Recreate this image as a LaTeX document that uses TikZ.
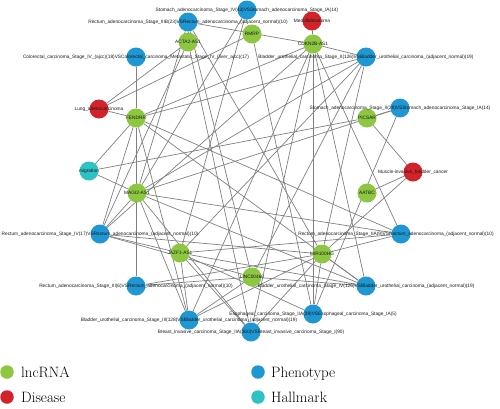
\documentclass[tikz,border=0pt]{standalone}
\usepackage{fontspec}
\newfontfamily\labfont{Liberation Sans}
\usetikzlibrary{backgrounds}
\definecolor{lncg}{HTML}{8DC641}
\definecolor{disr}{HTML}{D2232A}
\definecolor{pheb}{HTML}{1E97D3}
\definecolor{halt}{HTML}{2EC2C5}
\definecolor{edgegray}{HTML}{808080}
\begin{document}
\begin{tikzpicture}[x=1pt,y=-1pt,
  nd/.style={circle,minimum size=19pt,inner sep=0pt},
  lnc/.style={nd,fill=lncg}, dis/.style={nd,fill=disr},
  phe/.style={nd,fill=pheb}, hal/.style={nd,fill=halt},
  lbl/.style={font=\labfont\fontsize{4.8}{5.5}\selectfont,inner sep=0pt,text=black!90},
  edge/.style={draw=edgegray,line width=0.7pt},
  legdot/.style={circle,minimum size=13.5pt,inner sep=0pt},
  legtxt/.style={anchor=base west,inner sep=0pt,font=\fontsize{15}{17}\selectfont}]
\useasboundingbox (0,0) rectangle (500,408);
% nodes
\node[phe] (sIV) at (247,10) {};
\node[phe] (rIIIB) at (188,22) {};
\node[dis] (med) at (312,21) {};
\node[lnc] (acta) at (188,42) {};
\node[lnc] (rmrp) at (252,34) {};
\node[lnc] (cdkn) at (313,44) {};
\node[phe] (col) at (136,57) {};
\node[phe] (bII) at (366,57) {};
\node[dis] (lung) at (99,109) {};
\node[lnc] (fen) at (136,118) {};
\node[lnc] (pic) at (367,118) {};
\node[phe] (sII) at (400,108) {};
\node[hal] (mig) at (89,171) {};
\node[dis] (mus) at (413,172) {};
\node[lnc] (magi) at (137,193) {};
\node[lnc] (aatbc) at (367,193) {};
\node[phe] (rIV) at (100,234) {};
\node[phe] (rIIA) at (401,234) {};
\node[lnc] (jazf) at (180,253) {};
\node[lnc] (mir) at (322,254) {};
\node[lnc] (linc) at (252,277) {};
\node[phe] (rIII) at (136,286) {};
\node[phe] (bIV) at (366,286) {};
\node[phe] (eso) at (313,314) {};
\node[phe] (bIII) at (189,320) {};
\node[phe] (br) at (251,332) {};
% edges
\begin{pgfonlayer}{background}
\foreach \a/\b in {med/cdkn, rIIIB/cdkn, rIIIB/acta, rIIIB/linc, rIIIB/mir, rIIIB/magi,
  sIV/magi, sIV/jazf, lung/acta, lung/rmrp, lung/fen, col/fen, fen/rIII,
  fen/bII, fen/cdkn, fen/mig, fen/rIV, fen/rIIA, fen/bIV, fen/bIII,
  acta/rIV, acta/br, rmrp/eso, rIV/cdkn, cdkn/eso, cdkn/bIV, cdkn/bIII, cdkn/br,
  cdkn/bII, cdkn/rIIA, bII/linc, bII/mir, bII/jazf, bII/magi,
  pic/sII, pic/mus, pic/mig, magi/sII, sII/eso, mus/aatbc, mus/mir,
  mir/rIIA, mir/bIV, mir/eso, mir/rIV, mir/rIII, mir/bIII, mir/br,
  magi/rIV, magi/bIII, magi/bIV, magi/rIIA, magi/br, mig/magi,
  jazf/rIV, jazf/bIII, jazf/br, jazf/bIV, jazf/rIIA, jazf/eso,
  linc/rIII, linc/bIII, linc/bIV, linc/rIV}
  \draw[edge] (\a) -- (\b);
\end{pgfonlayer}
% labels
\node[lbl] (sIV-l) at (sIV) {Stomach\_adenocarcinoma\_Stage\_IV(43)VSStomach\_adenocarcinoma\_Stage\_IA(14)};
\node[lbl] (rIIIB-l) at (rIIIB) {Rectum\_adenocarcinoma\_Stage\_IIIB(23)VSRectum\_adenocarcinoma\_(adjacent\_normal)(10)};
\node[lbl] (med-l) at (med) {Medulloblastoma};
\node[lbl] (acta-l) at (acta) {ACTA2-AS1};
\node[lbl] (rmrp-l) at (rmrp) {RMRP};
\node[lbl] (cdkn-l) at (cdkn) {CDKN2B-AS1};
\node[lbl] (col-l) at (col) {Colorectal\_carcinoma\_Stage\_IV\_(ajcc)(18)VSColorectal\_carcinoma\_Metastatic\_Stage\_IV\_(liver\_ajcc)(17)};
\node[lbl] (bII-l) at (bII) {Bladder\_urothelial\_carcinoma\_Stage\_II(126)VSBladder\_urothelial\_carcinoma\_(adjacent\_normal)(19)};
\node[lbl] (lung-l) at (lung) {Lung\_adenocarcinoma};
\node[lbl] (fen-l) at (fen) {FENDRR};
\node[lbl] (pic-l) at (pic) {PICSAR};
\node[lbl] (sII-l) at (sII) {Stomach\_adenocarcinoma\_Stage\_II(28)VSStomach\_adenocarcinoma\_Stage\_IA(14)};
\node[lbl] (mig-l) at (mig) {migration};
\node[lbl] (mus-l) at (mus) {Muscle-invasive\_bladder\_cancer};
\node[lbl] (magi-l) at (magi) {MAGI2-AS1};
\node[lbl] (aatbc-l) at (aatbc) {AATBC};
\node[lbl] (rIV-l) at (rIV) {Rectum\_adenocarcinoma\_Stage\_IV(17)VSRectum\_adenocarcinoma\_(adjacent\_normal)(10)};
\node[lbl] (rIIA-l) at ([xshift=-5pt]rIIA.center) {Rectum\_adenocarcinoma\_Stage\_IIA(9)VSRectum\_adenocarcinoma\_(adjacent\_normal)(10)};
\node[lbl] (jazf-l) at (jazf) {JAZF1-AS1};
\node[lbl] (mir-l) at (mir) {MIR100HG};
\node[lbl] (linc-l) at (linc) {LINC00460};
\node[lbl] (rIII-l) at (rIII) {Rectum\_adenocarcinoma\_Stage\_III(6)VSRectum\_adenocarcinoma\_(adjacent\_normal)(10)};
\node[lbl] (bIV-l) at (bIV) {Bladder\_urothelial\_carcinoma\_Stage\_IV(126)VSBladder\_urothelial\_carcinoma\_(adjacent\_normal)(19)};
\node[lbl] (eso-l) at (eso) {Esophageal\_carcinoma\_Stage\_IIA(39)VSEsophageal\_carcinoma\_Stage\_IA(5)};
\node[lbl] (bIII-l) at (bIII) {Bladder\_urothelial\_carcinoma\_Stage\_III(128)VSBladder\_urothelial\_carcinoma\_(adjacent\_normal)(19)};
\node[lbl] (br-l) at (br) {Breast\_invasive\_carcinoma\_Stage\_IIA(360)VSBreast\_invasive\_carcinoma\_Stage\_I(90)};
% legend
\node[legdot,fill=lncg] (lg1) at (7,372) {};
\node[legtxt] (lt1) at (21,377) {lncRNA};
\node[legdot,fill=disr] (lg2) at (7,397) {};
\node[legtxt] (lt2) at (21,402) {Disease};
\node[legdot,fill=pheb] (lg3) at (258,372) {};
\node[legtxt] (lt3) at (271,377) {Phenotype};
\node[legdot,fill=halt] (lg4) at (258,397) {};
\node[legtxt] (lt4) at (271,402) {Hallmark};
\end{tikzpicture}
\end{document}
